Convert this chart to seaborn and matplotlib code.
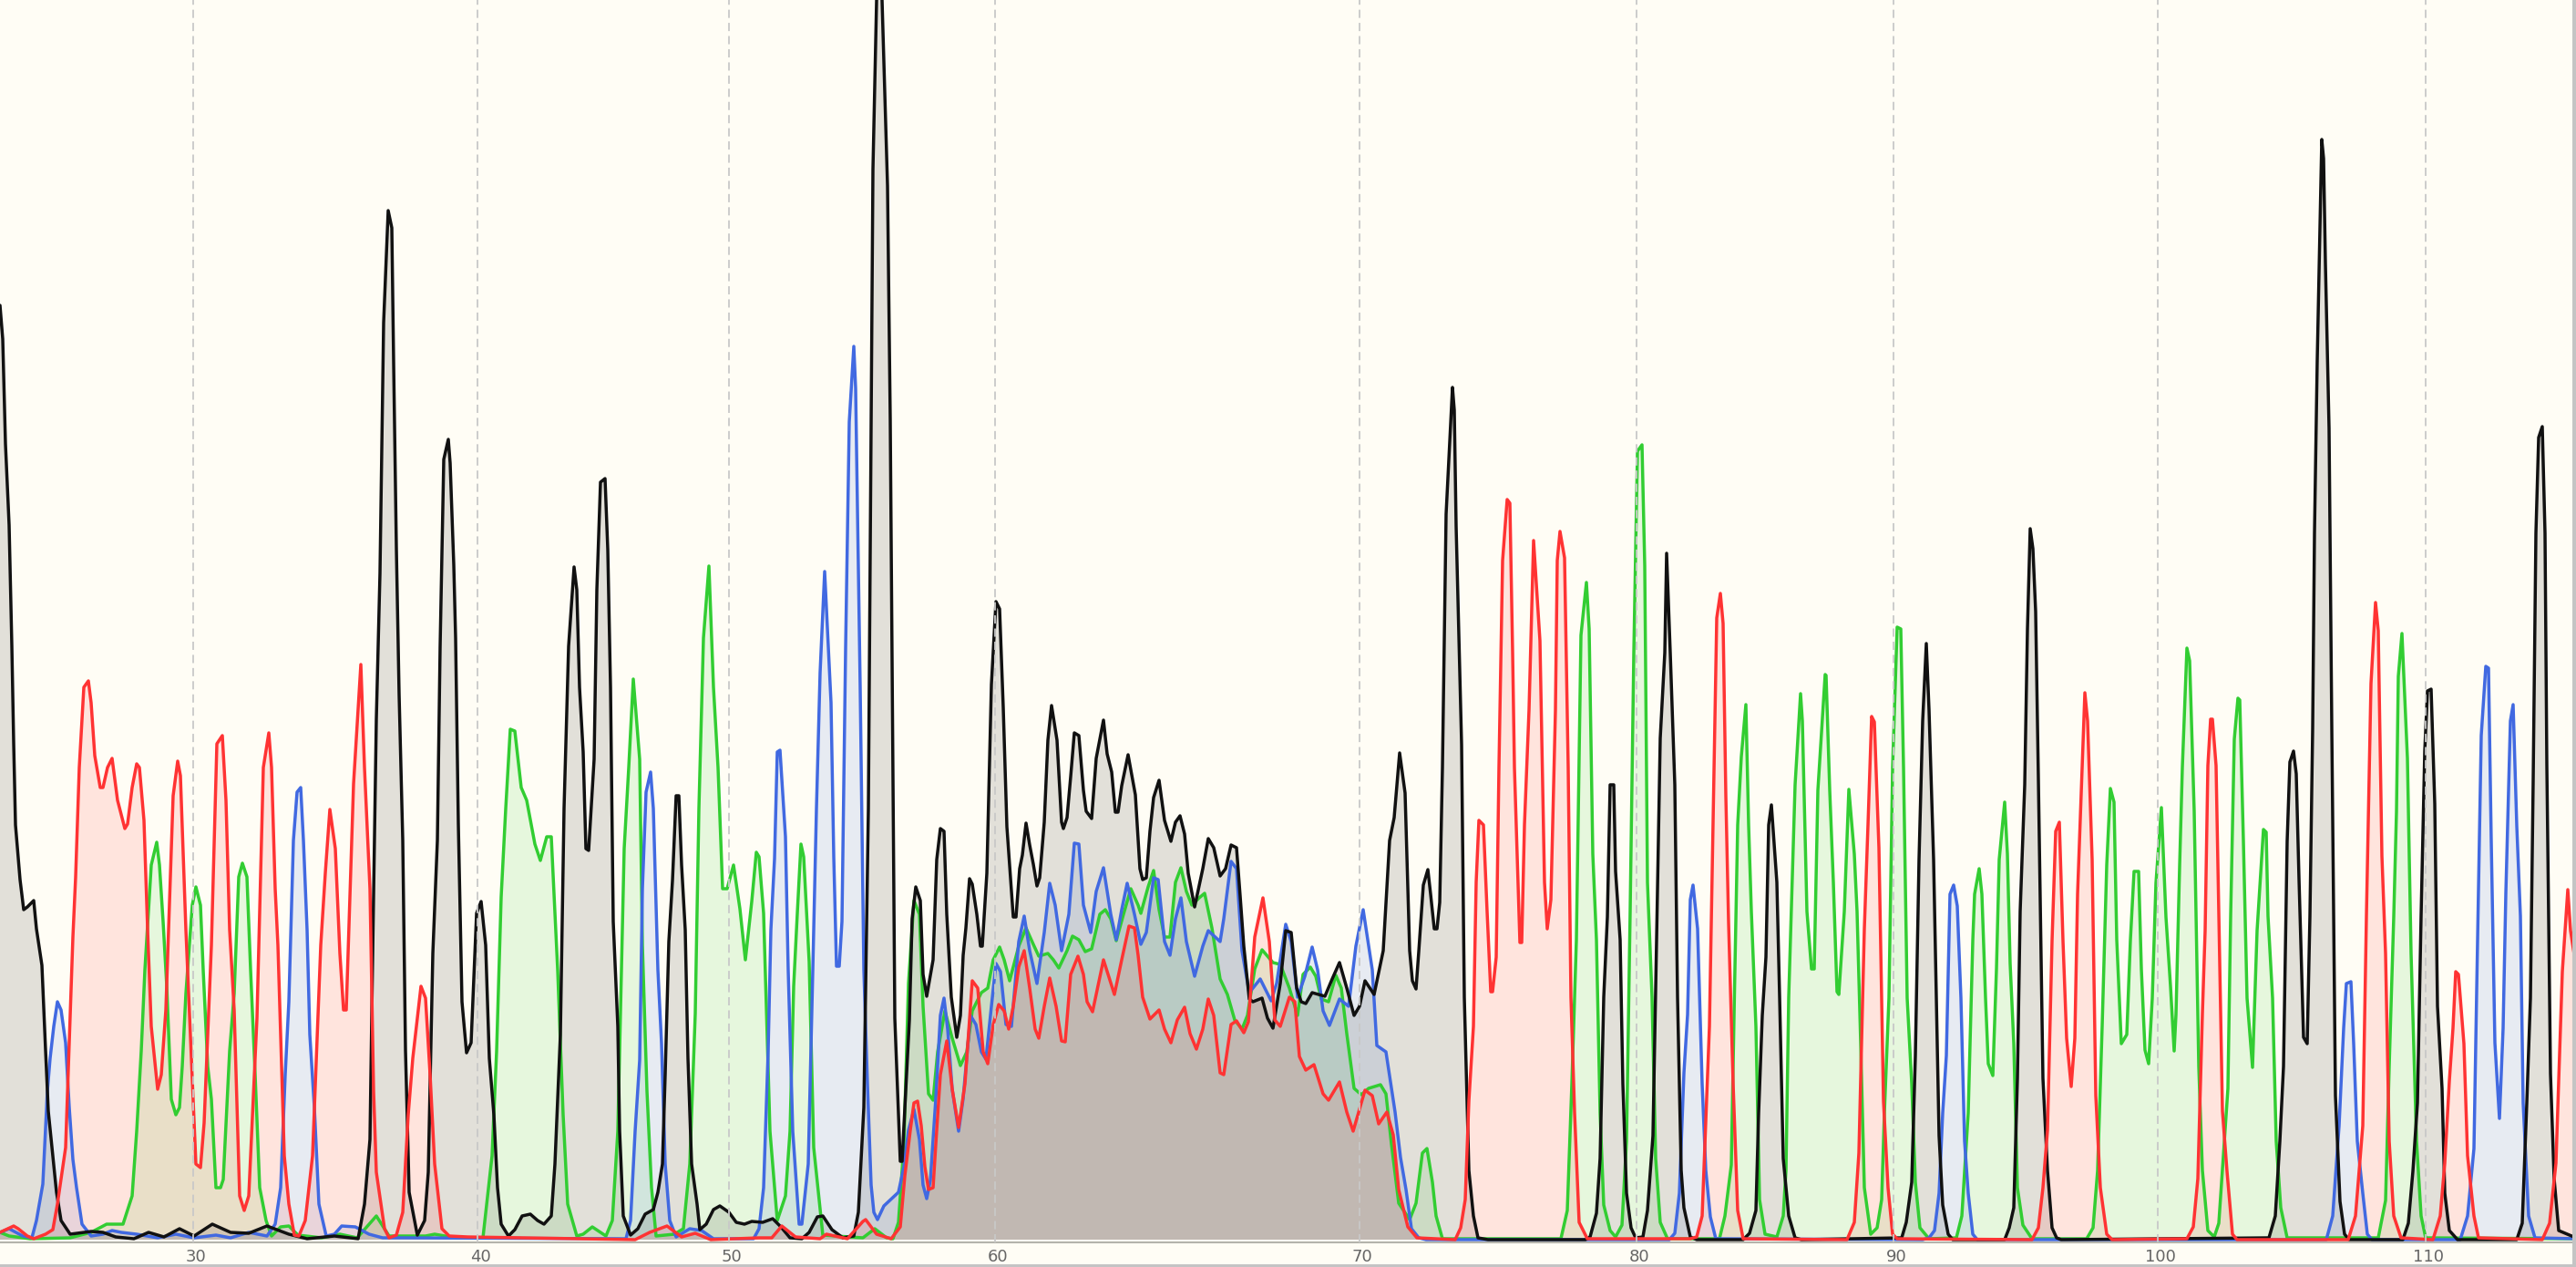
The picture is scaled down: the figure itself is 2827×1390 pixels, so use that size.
import pandas as pd
import matplotlib
matplotlib.use("Agg")
import matplotlib.pyplot as plt
from matplotlib.patches import Rectangle
from matplotlib.transforms import ScaledTranslation
import seaborn as sns

# trace data: scan position, signal height

tick_pos = [212, 524, 800, 1092, 1492, 1796, 2078, 2368, 2662]
tick_labels = ["30", "40", "50", "60", "70", "80", "90", "100", "110"]

green_x = [0, 10, 33, 77, 100, 117, 135, 145, 150, 155, 159, 166, 172, 175, 179, 183, 188, 193, 197, 200, 204, 211, 215, 220, 223, 228, 232, 237, 242, 245, 252, 257, 262, 266, 271, 275, 280, 285, 292, 298, 308, 317, 327, 353, 373, 392, 413, 427, 467, 477, 500,
           530, 540, 545, 550, 555, 560, 565, 572, 578, 587, 593, 600, 605, 612, 618, 623, 633, 640, 650, 665, 672, 678, 685, 690, 695, 702, 705, 710, 715, 720, 740, 750, 757, 763, 767, 772, 778, 783, 788, 793, 798, 805, 812, 818, 825, 830, 833, 838, 845, 853, 862, 867, 871, 875, 879, 882, 888, 893, 903, 947, 960, 973, 980,
           986, 992, 997, 1003, 1009, 1013, 1019, 1024, 1029, 1037, 1045, 1054, 1061, 1067, 1077, 1084, 1090, 1097, 1102, 1108, 1118, 1126, 1134, 1140, 1150, 1156, 1162, 1171, 1177, 1184, 1191, 1198, 1207, 1213, 1219, 1225, 1233, 1241, 1249, 1252, 1260, 1266, 1272, 1278, 1284, 1290, 1296, 1302, 1308, 1316, 1322, 1330, 1339, 1347, 1355, 1363, 1369, 1377, 1385, 1397, 1405, 1415, 1424, 1430, 1438, 1444, 1450, 1458, 1466, 1472, 1478, 1486, 1494, 1502, 1515, 1521, 1527, 1535, 1547, 1554, 1561, 1566, 1572, 1576, 1583,
           1713, 1720, 1725, 1730, 1735, 1741, 1744, 1748, 1752, 1756, 1760, 1767, 1773, 1780, 1785, 1789, 1793, 1797, 1802, 1805, 1808, 1813, 1817, 1822, 1830, 1887, 1893, 1900, 1903, 1907, 1911, 1916, 1919, 1922, 1927, 1931, 1937, 1950, 1957, 1960, 1963, 1967, 1970, 1976,
           1978, 1983, 1988, 1991, 1995, 2003, 2004, 2008, 2012, 2016, 2018, 2024, 2029, 2035, 2038, 2042, 2046, 2053, 2060, 2065, 2068, 2073, 2077, 2082, 2086, 2089, 2093, 2098, 2102, 2107, 2117, 2147, 2153, 2160, 2165, 2167, 2172, 2175, 2179, 2182, 2187, 2191, 2194, 2200, 2203, 2206, 2210, 2214, 2220, 2230, 2290, 2297, 2302, 2307, 2312, 2316, 2320, 2323, 2328, 2334, 2338, 2342, 2347, 2350, 2354, 2358, 2362, 2366, 2372, 2377, 2382, 2386, 2388, 2392, 2395, 2400,
           2403, 2408, 2413, 2417, 2423, 2430, 2435, 2440, 2445, 2448, 2452, 2456, 2458, 2462, 2466, 2472, 2477, 2484, 2487, 2489, 2494, 2498, 2503, 2510, 2610, 2618, 2622, 2627, 2630, 2632, 2636, 2642, 2646, 2652, 2657, 2662, 2827]
green_y = [8, 4, 1, 2, 8, 17, 17, 48, 119, 207, 296, 411, 436, 411, 349, 278, 154, 137, 145, 190, 270, 367, 387, 367, 296, 190, 154, 57, 57, 66, 207, 270, 398, 413, 398, 296, 181, 57, 21, 4, 14, 15, 5, 2, 6, 2, 26, 4, 4, 6, 2,
           2, 92, 207, 376, 473, 560, 558, 496, 482, 434, 416, 442, 442, 296, 137, 39, 4, 6, 14, 4, 21, 119, 429, 518, 615, 527, 323, 163, 57, 4, 6, 12, 83, 248, 473, 660, 739, 606, 518, 385, 385, 411, 363, 307, 371, 425, 420, 358, 119, 21, 48, 119, 278, 358, 434, 420, 305, 101, 5, 2, 12, 2, 1,
           19, 105, 281, 372, 357, 256, 160, 153, 206, 251, 221, 191, 206, 251, 271, 276, 307, 321, 307, 284, 322, 342, 324, 311, 314, 307, 298, 317, 333, 329, 316, 319, 357, 362, 352, 328, 357, 385, 367, 358, 387, 405, 362, 332, 332, 392, 408, 382, 367, 375, 380, 342, 286, 269, 241, 231, 246, 297, 318, 304, 302, 276, 246, 291, 299, 289, 264, 261, 290, 276, 226, 166, 159, 166, 170, 160, 105, 40, 22, 40, 95, 100, 63, 26, 1,
           1, 32, 171, 329, 663, 721, 670, 423, 329, 139, 38, 10, 3, 16, 108, 360, 644, 865, 872, 739, 392, 266, 89, 19, 1, 1, 26, 82, 246, 455, 530, 587, 455, 360, 234, 44, 6, 3, 26, 76, 266, 400, 499, 599,
           569, 360, 297, 297, 493, 620, 619, 493, 392, 272, 269, 360, 494, 423, 360, 215, 57, 6, 13, 44, 139, 265, 518, 672, 670, 518, 265, 171, 63, 13, 1, 2, 26, 139, 328, 379, 407, 379, 265, 193, 180, 297, 417, 480, 423, 303, 215, 57, 16, 1, 1, 13, 76, 234, 411, 495, 480, 329, 215, 225, 329, 404, 404, 297, 208, 193, 265, 391, 474, 354, 278, 207, 247, 410, 518, 649,
           635, 470, 190, 76, 10, 3, 18, 92, 166, 355, 549, 594, 592, 437, 265, 189, 339, 450, 447, 355, 265, 108, 35, 2, 2, 43, 190, 355, 470, 618, 665, 528, 314, 108, 26, 2, 1]

blue_x = [0, 10, 25, 35, 40, 47, 52, 55, 59, 63, 67, 72, 76, 80, 84, 90, 100, 113, 123, 133, 150, 173, 193, 213, 237, 253, 273, 293, 302, 308, 313, 317, 322, 326, 330, 333, 337, 340, 345, 350, 358, 367, 375, 390, 405, 420, 443,
          687, 692, 697, 702, 705, 709, 714, 717, 722, 726, 730, 735, 742, 757, 770, 783, 827, 833, 838, 843, 846, 850, 853, 856, 862, 865, 870, 877, 880, 887, 892, 896, 900, 905, 912, 915, 918, 921, 924, 928, 932, 937, 939, 944, 948, 952, 956, 959, 963, 970,
          986, 992, 997, 1003, 1009, 1013, 1017, 1021, 1027, 1032, 1036, 1040, 1045, 1052, 1057, 1065, 1071, 1077, 1082, 1088, 1093, 1098, 1104, 1110, 1118, 1124, 1130, 1138, 1146, 1152, 1158, 1165, 1173, 1179, 1184, 1189, 1197, 1203, 1211, 1219, 1225, 1231, 1237, 1245, 1252, 1258, 1266, 1271, 1278, 1284, 1290, 1296, 1302, 1311, 1320, 1326, 1339, 1343, 1351, 1357, 1363, 1371, 1383, 1395, 1401, 1411, 1417, 1424, 1432, 1440, 1446, 1452, 1459, 1470, 1480, 1488, 1496, 1506, 1511, 1521, 1531, 1537, 1543, 1549, 1557, 1565,
          1832, 1838, 1843, 1848, 1852, 1855, 1858, 1863, 1868, 1872, 1877, 1883, 2110, 2117, 2123, 2128, 2132, 2136, 2140, 2144, 2148, 2152, 2156, 2160, 2165, 2170,
          2553, 2560, 2567, 2572, 2575, 2580, 2583, 2587, 2593, 2598, 2603, 2700, 2708, 2715, 2718, 2723, 2728, 2731, 2734, 2738, 2743, 2747, 2750, 2755, 2758, 2762, 2766, 2769, 2775, 2782, 2827]
blue_y = [8, 12, 4, 2, 21, 61, 163, 199, 234, 261, 252, 216, 145, 88, 57, 17, 4, 6, 10, 8, 6, 2, 6, 2, 5, 2, 8, 4, 17, 57, 181, 261, 438, 491, 496, 438, 340, 225, 145, 39, 4, 6, 15, 14, 6, 2, 2,
          1, 21, 119, 197, 385, 491, 513, 473, 296, 215, 83, 21, 3, 12, 10, 1, 1, 12, 57, 207, 340, 418, 535, 537, 442, 296, 119, 17, 17, 83, 296, 473, 622, 733, 589, 420, 300, 300, 349, 649, 897, 980, 934, 606, 296, 170, 60, 30, 22, 37,
          52, 80, 120, 143, 110, 60, 45, 65, 155, 246, 265, 231, 165, 119, 155, 246, 236, 206, 198, 256, 303, 294, 236, 234, 327, 355, 317, 281, 337, 391, 367, 317, 357, 435, 434, 367, 337, 382, 408, 357, 329, 362, 391, 357, 324, 337, 397, 395, 327, 312, 352, 375, 327, 289, 322, 339, 327, 352, 415, 407, 317, 271, 286, 262, 281, 346, 327, 266, 289, 321, 296, 251, 235, 264, 256, 322, 362, 296, 213, 206, 140, 90, 55, 12, 2, 0,
          0, 7, 51, 183, 247, 373, 389, 341, 171, 76, 25, 1, 0, 2, 10, 51, 139, 202, 379, 389, 366, 265, 108, 51, 6, 0,
          0, 26, 125, 232, 281, 283, 215, 108, 51, 6, 0, 0, 26, 100, 273, 553, 629, 627, 437, 216, 133, 232, 380, 569, 587, 454, 355, 150, 26, 2, 1]

black_x = [0, 3, 6, 10, 13, 15, 17, 22, 26, 30, 37, 40, 46, 50, 53, 57, 62, 67, 77, 100, 113, 127, 147, 163, 180, 197, 213, 233, 253, 273, 293, 317, 337, 367, 393, 400, 406, 409, 413, 417, 421, 426, 430, 432, 435, 438, 442, 445, 449, 458, 466, 470, 475, 480, 483, 487, 492, 494, 498,
           500, 503, 507, 512, 517, 523, 528, 533, 537, 542, 546, 550, 558, 565, 573, 582, 590, 597, 605, 609, 615, 619, 624, 630, 633, 636, 640, 643, 646, 652, 655, 659, 664, 667, 670, 673, 678, 680, 684, 692, 700, 708, 717, 722, 727, 730, 734, 738, 742, 745, 748, 752, 755, 759, 765, 768, 775, 783, 790, 800, 808, 817, 825, 837, 848, 857, 867, 880, 888, 897, 903, 913, 925, 937, 942, 948, 953, 958, 962, 965, 968, 974, 977, 982, 988, 990,
           998, 1001, 1005, 1010, 1013, 1017, 1024, 1028, 1032, 1036, 1039, 1044, 1050, 1054, 1057, 1060, 1064, 1067, 1072, 1076, 1078, 1083, 1088, 1093, 1097, 1101, 1105, 1112, 1115, 1119, 1122, 1126, 1130, 1134, 1138, 1141, 1146, 1150, 1154, 1160, 1165, 1167, 1171, 1175, 1179, 1184, 1189, 1192, 1198, 1203, 1211, 1215, 1220, 1224, 1227, 1231, 1238, 1246, 1251, 1254, 1258, 1262, 1266, 1272, 1278, 1285, 1290, 1295, 1300, 1304, 1311, 1320, 1326, 1332, 1339, 1345, 1351, 1357, 1361, 1365, 1371, 1375, 1385, 1391, 1397, 1405, 1411, 1417, 1423, 1428, 1433, 1440, 1454, 1462, 1470, 1478, 1486, 1492, 1498, 1508, 1518, 1525, 1530, 1536, 1542, 1547, 1550, 1554,
           1557, 1562, 1567, 1570, 1574, 1577, 1580, 1583, 1587, 1594, 1596, 1598, 1604, 1607, 1612, 1617, 1622, 1633, 1740, 1745, 1752, 1756, 1760, 1764, 1767, 1771, 1773, 1778, 1781, 1785, 1790, 1795, 1803, 1808, 1814, 1818, 1822, 1827, 1829, 1833, 1838, 1841, 1845, 1848, 1855, 1862, 1913, 1920, 1927, 1930, 1934, 1938, 1941, 1944, 1950, 1953, 1957, 1963, 1970, 1977,
           2087, 2092, 2098, 2102, 2106, 2110, 2114, 2117, 2122, 2125, 2128, 2132, 2138, 2143, 2200, 2205, 2210, 2214, 2217, 2222, 2225, 2228, 2231, 2234, 2237, 2242, 2247, 2252, 2257, 2262,
           2490, 2497, 2502, 2506, 2510, 2513, 2517, 2520, 2523, 2528, 2532, 2535, 2538, 2540, 2543, 2548, 2550, 2552, 2556, 2559, 2563, 2568, 2573, 2578, 2637, 2643, 2648, 2653, 2657, 2661, 2664, 2668, 2672, 2675, 2680, 2683, 2688, 2697, 2762, 2768, 2773, 2777, 2780, 2783, 2786, 2790, 2793, 2795, 2799, 2803, 2808, 2827]
black_y = [1025, 988, 873, 784, 651, 545, 455, 395, 362, 365, 372, 341, 301, 208, 141, 101, 52, 21, 6, 9, 8, 3, 1, 8, 3, 12, 4, 17, 8, 7, 15, 6, 1, 4, 1, 39, 110, 314, 571, 731, 1006, 1129, 1110, 961, 758, 598, 438, 208, 52, 5, 21, 74, 314, 438, 650, 856, 878, 852, 740,
           660, 456, 261, 205, 216, 358, 371, 323, 199, 137, 57, 17, 4, 11, 26, 28, 21, 17, 26, 83, 225, 473, 651, 738, 713, 606, 535, 429, 427, 527, 713, 831, 835, 757, 606, 349, 234, 119, 26, 5, 12, 28, 33, 52, 83, 181, 327, 394, 487, 487, 411, 340, 199, 83, 39, 11, 17, 33, 37, 30, 19, 17, 20, 19, 23, 14, 2, 1, 8, 25, 26, 11, 2, 4, 30, 145, 473, 1174, 1360, 1480, 1360, 1156, 899, 243, 86, 86,
           241, 352, 387, 372, 291, 267, 307, 417, 451, 448, 357, 266, 222, 246, 312, 342, 396, 390, 357, 322, 322, 402, 609, 700, 692, 584, 453, 354, 354, 407, 422, 457, 433, 412, 388, 397, 458, 548, 586, 548, 458, 451, 463, 508, 556, 553, 493, 470, 462, 528, 570, 533, 513, 469, 469, 498, 532, 488, 407, 395, 397, 448, 485, 504, 460, 437, 458, 465, 445, 402, 365, 407, 440, 430, 399, 407, 433, 430, 377, 322, 264, 261, 265, 243, 232, 281, 339, 337, 276, 261, 259, 271, 267, 286, 304, 276, 246, 256, 284, 269, 317, 438, 463, 534, 490, 317, 284, 275,
           316, 389, 406, 379, 341, 341, 370, 518, 796, 935, 910, 783, 543, 266, 76, 26, 2, 0, 0, 3, 29, 89, 266, 354, 499, 499, 404, 329, 171, 51, 13, 2, 3, 32, 114, 329, 550, 644, 753, 644, 499, 266, 76, 35, 3, 0, 0, 7, 32, 139, 246, 310, 455, 477, 392, 266, 89, 26, 2, 0,
           2, 19, 63, 202, 417, 569, 654, 581, 417, 265, 114, 38, 6, 0, 0, 13, 35, 177, 360, 499, 670, 780, 758, 689, 505, 177, 76, 13, 2, 0,
           2, 26, 108, 190, 437, 524, 536, 511, 396, 222, 215, 355, 561, 775, 964, 1207, 1186, 1071, 890, 561, 158, 42, 6, 0, 0, 18, 75, 150, 355, 536, 602, 604, 478, 256, 166, 51, 10, 0, 0, 18, 150, 265, 503, 775, 880, 892, 775, 520, 182, 67, 10, 2]

red_x = [0, 15, 20, 30, 37, 50, 58, 63, 72, 76, 80, 83, 87, 92, 97, 100, 104, 110, 113, 118, 123, 129, 137, 140, 145, 150, 153, 158, 162, 166, 173, 177, 182, 190, 195, 198, 204, 210, 215, 220, 224, 232, 238, 244, 248, 252, 257, 263, 268, 273, 282, 289, 295, 298, 302, 305, 312, 317, 323, 328, 335, 343, 352, 357, 362, 368, 373, 377, 380, 388, 396, 400, 406, 410, 413, 422, 427, 435, 442, 448, 453, 462, 467, 472, 477, 485, 493,
         513, 697, 713, 732, 748, 763, 780, 833, 847, 858, 873, 900, 907, 930, 947, 950, 962, 978, 988, 993, 999, 1003, 1007, 1011, 1015, 1019, 1024, 1027, 1032, 1039, 1045, 1052, 1059, 1067, 1073, 1079, 1084, 1090, 1096, 1102, 1107, 1112, 1118, 1124, 1130, 1136, 1140, 1146, 1152, 1159, 1165, 1169, 1175, 1183, 1189, 1193, 1199, 1211, 1223, 1231, 1239, 1245, 1249, 1254, 1262, 1272, 1278, 1285, 1292, 1300, 1306, 1313, 1320, 1326, 1332, 1339, 1343, 1351, 1357, 1365, 1370, 1377, 1386, 1393, 1399, 1405, 1415, 1421, 1426, 1433, 1442, 1452, 1458, 1470, 1478, 1485, 1498, 1506, 1513, 1522, 1529, 1535, 1545, 1555,
         1597, 1603, 1608, 1612, 1617, 1620, 1623, 1628, 1632, 1636, 1638, 1642, 1645, 1649, 1654, 1657, 1660, 1662, 1668, 1670, 1673, 1678, 1683, 1690, 1695, 1698, 1702, 1707, 1709, 1712, 1717, 1721, 1724, 1728, 1733, 1742, 1855, 1862, 1868, 1876, 1880, 1884, 1888, 1891, 1894, 1897, 1902, 1907, 1913,
         2027, 2035, 2040, 2046, 2050, 2054, 2057, 2062, 2067, 2072, 2077, 2082, 2230, 2237, 2242, 2247, 2252, 2256, 2260, 2264, 2268, 2273, 2277, 2280, 2285, 2288, 2291, 2296, 2300, 2305, 2312, 2318, 2400,
         2407, 2412, 2417, 2420, 2423, 2426, 2428, 2432, 2435, 2439, 2444, 2450, 2455, 2577, 2585, 2593, 2597, 2602, 2607, 2610, 2614, 2618, 2622, 2627, 2635, 2670, 2678, 2683, 2688, 2692, 2695, 2698, 2704, 2708, 2715, 2720, 2790, 2798, 2805, 2812, 2818, 2821, 2827]
red_y = [8, 15, 12, 4, 1, 6, 11, 39, 101, 216, 332, 398, 518, 606, 613, 589, 531, 496, 496, 518, 528, 482, 451, 456, 496, 522, 518, 460, 340, 234, 165, 181, 252, 487, 525, 509, 340, 199, 83, 79, 128, 323, 544, 553, 482, 340, 252, 48, 32, 48, 243, 518, 556, 518, 385, 323, 92, 39, 5, 4, 21, 92, 323, 402, 472, 429, 314, 252, 252, 500, 631, 518, 385, 163, 74, 12, 2, 5, 30, 137, 199, 278, 265, 181, 83, 12, 4,
         3, 0, 8, 15, 3, 7, 0, 2, 2, 15, 3, 1, 6, 1, 20, 22, 6, 1, 14, 70, 120, 150, 152, 125, 80, 55, 57, 105, 181, 218, 165, 123, 171, 284, 276, 206, 193, 236, 258, 251, 231, 256, 299, 317, 276, 231, 221, 256, 287, 256, 218, 217, 291, 311, 291, 261, 250, 307, 269, 307, 344, 342, 312, 266, 242, 252, 231, 216, 241, 255, 226, 209, 231, 264, 246, 183, 181, 236, 240, 227, 239, 332, 375, 327, 241, 234, 266, 261, 201, 186, 192, 160, 153, 173, 140, 119, 164, 158, 127, 140, 115, 55, 14, 2,
         0, 13, 44, 152, 234, 392, 460, 455, 360, 272, 272, 310, 518, 745, 812, 808, 644, 518, 326, 326, 455, 581, 767, 657, 392, 341, 373, 581, 745, 777, 748, 518, 266, 139, 19, 1, 1, 3, 26, 234, 455, 682, 709, 676, 487, 348, 171, 32, 1,
         0, 19, 95, 341, 455, 574, 568, 430, 152, 57, 6, 1, 0, 13, 57, 120, 328, 448, 458, 328, 221, 168, 221, 379, 518, 600, 569, 417, 158, 57, 6, 0, 1,
         14, 67, 248, 339, 520, 571, 571, 520, 355, 141, 75, 6, 0, 0, 26, 125, 355, 610, 699, 668, 421, 314, 108, 26, 2, 0, 26, 84, 174, 232, 294, 291, 215, 92, 26, 2, 0, 18, 84, 294, 384, 339, 300]

BG = "#FFFDF5"

sns.set_style("white")
fig = plt.figure(figsize=(28.27, 13.9), dpi=100, facecolor=BG)
ax = fig.add_axes([0, (1390 - 1363) / 1390, 2823 / 2827, 1363 / 1390])
ax.set_facecolor(BG)

# drawing order matters, red ends up on top
traces = [
    (green_x, green_y, "#32CD32"),
    (blue_x, blue_y, "#4169E1"),
    (black_x, black_y, "#111111"),
    (red_x, red_y, "#FF3333"),
]

for xs, ys, col in traces:
    df = pd.DataFrame({"scan": xs, "signal": ys})
    ax.fill_between(df["scan"], df["signal"], 0, color=col, alpha=0.12, lw=0)
    sns.lineplot(data=df, x="scan", y="signal", color=col, linewidth=2.5,
                 solid_joinstyle="round", estimator=None, sort=False, ax=ax)

ax.set_xlim(0, 2823)
ax.set_ylim(-3, 1360)
ax.set_xlabel("")
ax.set_ylabel("")
ax.set_yticks([])
ax.set_xticks(tick_pos)
ax.set_xticklabels(tick_labels)
ax.tick_params(axis="x", length=0, pad=5, labelsize=13, labelcolor="#666666")

# labels sit a few pixels right of their grid line
nudge = ScaledTranslation(3 / 100, 0, fig.dpi_scale_trans)
for lab in ax.get_xticklabels():
    lab.set_transform(lab.get_transform() + nudge)

ax.set_axisbelow(False)
ax.grid(axis="x", color="#C8C8C8", lw=1.3, ls=(0, (5, 3)))

for side in ["top", "left", "right"]:
    ax.spines[side].set_visible(False)
ax.spines["bottom"].set_color("#B4B4AC")
ax.spines["bottom"].set_linewidth(1.5)

# thin grey frame on the right and bottom edge
fig.add_artist(Rectangle((2823 / 2827, 0), 4 / 2827, 1, transform=fig.transFigure, color="#C4C4C4", lw=0))
fig.add_artist(Rectangle((0, 0), 1, 3 / 1390, transform=fig.transFigure, color="#C4C4C4", lw=0))

fig.savefig("out.png", dpi=100, facecolor=BG)
